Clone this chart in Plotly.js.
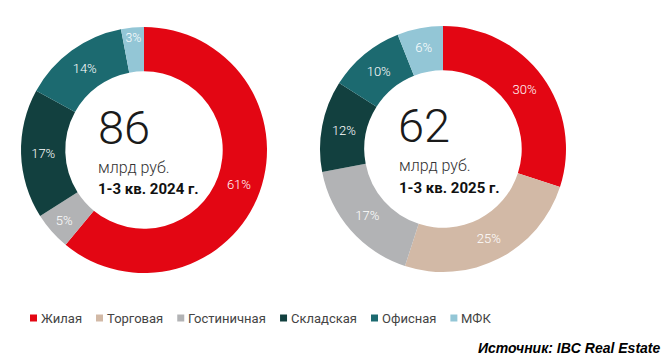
<!DOCTYPE html>
<html>
<head>
<meta charset="utf-8">
<script src="https://cdn.plot.ly/plotly-3.0.1.min.js"></script>
<style>
  html, body { margin: 0; padding: 0; background: #fff; }
  #chart { width: 671px; height: 363px; }
</style>
</head>
<body>
<div id="chart"></div>
<script>
// ---- data ----
const categories = ['Жилая', 'Торговая', 'Гостиничная', 'Складская', 'Офисная', 'МФК'];
const shares2024 = [61, 0, 5, 17, 14, 3];
const shares2025 = [30, 25, 17, 12, 10, 6];
const totals = ['86', '62'];
const unitLabel = 'млрд руб.';
const periods = ['1-3 кв. 2024 г.', '1-3 кв. 2025 г.'];
const sourceText = 'Источник: IBC Real Estate';
const colors = ['#E30613', '#D2B9A6', '#B2B3B5', '#12403F', '#1C6A70', '#93C6D6'];

// ---- layout helpers ----
const W = 671, H = 363;
const px = x => x / W;
const py = y => 1 - y / H;
const FONT = 'Roboto, "Noto Sans", sans-serif';

function pie(values, cx, cy, r) {
  return {
    type: 'pie',
    labels: categories,
    values: values,
    text: values.map(v => v > 0 ? v + '%' : ''),
    textinfo: 'text',
    textposition: 'inside',
    insidetextorientation: 'horizontal',
    insidetextfont: { color: '#ffffff', size: 13, family: FONT, weight: 300 },
    marker: { colors: colors, line: { width: 0 } },
    hole: 0.64,
    sort: false,
    direction: 'clockwise',
    rotation: 0,
    showlegend: false,
    hoverinfo: 'label+percent',
    domain: { x: [px(cx - r), px(cx + r)], y: [py(cy + r), py(cy - r)] }
  };
}

const data = [
  pie(shares2024, 144, 150, 123),
  pie(shares2025, 443, 149, 123)
];

const annotations = [];
const shapes = [];
const centers = [[96, 127, 96, 167, 189], [396, 126, 397, 165, 188]];
centers.forEach((c, i) => {
  annotations.push({ text: totals[i], xref: 'paper', yref: 'paper', x: px(c[0]), y: py(c[1]),
    xanchor: 'left', yanchor: 'middle', showarrow: false,
    font: { family: FONT, size: 47, weight: 300, color: '#1a1a1a' } });
  annotations.push({ text: unitLabel, xref: 'paper', yref: 'paper', x: px(c[2]), y: py(c[3]),
    xanchor: 'left', yanchor: 'middle', showarrow: false,
    font: { family: FONT, size: 16, weight: 300, color: '#333333' } });
  annotations.push({ text: periods[i], xref: 'paper', yref: 'paper', x: px(c[2]), y: py(c[4]),
    xanchor: 'left', yanchor: 'middle', showarrow: false,
    font: { family: FONT, size: 15, weight: 700, color: '#111111' } });
});

// ---- custom legend, spaced by measured text widths ----
const ctx = document.createElement('canvas').getContext('2d');
ctx.font = '13px Roboto';
let lx = 30;
const ly = 318;
categories.forEach((cat, i) => {
  shapes.push({ type: 'rect', xref: 'paper', yref: 'paper',
    x0: px(lx), x1: px(lx + 7), y0: py(ly + 3.5), y1: py(ly - 3.5),
    fillcolor: colors[i], line: { width: 0 } });
  annotations.push({ text: cat, xref: 'paper', yref: 'paper', x: px(lx + 10), y: py(ly),
    xanchor: 'left', yanchor: 'middle', showarrow: false, borderpad: 0,
    font: { family: FONT, size: 13, color: '#444444' } });
  lx += 10 + ctx.measureText(cat).width + 15;
});

annotations.push({ text: '<b><i>' + sourceText + '</i></b>', xref: 'paper', yref: 'paper',
  x: px(662), y: py(348), xanchor: 'right', yanchor: 'middle', showarrow: false,
  font: { family: '"Liberation Sans", Arial, sans-serif', size: 14, color: '#000000' } });

const layout = {
  width: W, height: H,
  margin: { l: 0, r: 0, t: 0, b: 0 },
  paper_bgcolor: '#ffffff',
  showlegend: false,
  annotations: annotations,
  shapes: shapes
};

Plotly.newPlot('chart', data, layout, { displayModeBar: false, staticPlot: true });
</script>
</body>
</html>
